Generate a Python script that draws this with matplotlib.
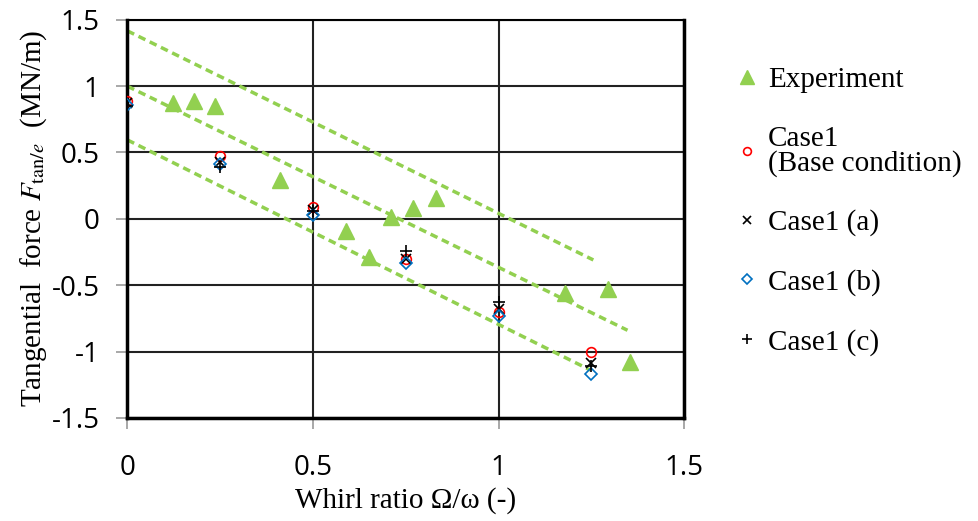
import matplotlib
matplotlib.use("Agg")
import matplotlib.pyplot as plt

plt.rcParams['mathtext.fontset'] = 'stix'

# experiment
exp_x = [0.124, 0.18, 0.237, 0.41, 0.59, 0.65, 0.71, 0.77, 0.83, 1.18, 1.295, 1.355]
exp_y = [0.87, 0.89, 0.85, 0.29, -0.09, -0.29, 0.01, 0.08, 0.16, -0.56, -0.53, -1.08]

# computed cases
case_x = [0, 0.25, 0.5, 0.75, 1.0, 1.25]
base_y = [0.89, 0.47, 0.09, -0.30, -0.70, -1.00]
a_y = [0.87, 0.43, 0.07, -0.30, -0.68, -1.09]
b_y = [0.86, 0.41, 0.03, -0.33, -0.73, -1.17]
c_y = [0.85, 0.39, 0.06, -0.24, -0.63, -1.11]

# dashed guide lines (start, end)
line_x = [[0, 1.255], [0, 1.347], [0, 1.247]]
line_y = [[1.417, -0.31], [1.0, -0.84], [0.595, -1.14]]

green = '#92D050'

fig = plt.figure(figsize=(9.79, 5.21), dpi=100)
ax = fig.add_axes([0.130, 0.198, 0.569, 0.764])

for lx, ly in zip(line_x, line_y):
    ax.plot(lx, ly, '--', color=green, lw=2.5, dashes=(2.2, 1.4), zorder=2)

ax.plot(exp_x, exp_y, '^', color=green, ms=12, ls='none', label='Experiment', zorder=3)
ax.plot(case_x, base_y, 'o', mfc='none', mec='red', ms=7, mew=1.2, ls='none',
        label='Case1\n(Base condition)', zorder=4)
ax.plot(case_x, a_y, 'x', color='black', ms=7, mew=1.2, ls='none', label='Case1 (a)', zorder=4)
ax.plot(case_x, b_y, 'D', mfc='none', mec='#0070C0', ms=6, mew=1.2, ls='none',
        label='Case1 (b)', zorder=4)
ax.plot(case_x, c_y, '+', color='black', ms=9, mew=1.2, ls='none', label='Case1 (c)', zorder=4)

ax.set_xlim(0, 1.5)
ax.set_ylim(-1.5, 1.5)
ax.set_xticks([0, 0.5, 1, 1.5])
ax.set_xticklabels(['0', '0.5', '1', '1.5'])
ax.set_yticks([-1.5, -1, -0.5, 0, 0.5, 1, 1.5])
ax.set_yticklabels(['-1.5', '-1', '-0.5', '0', '0.5', '1', '1.5'])
ax.grid(True, color='#222222', lw=1.5)
ax.set_axisbelow(True)
for s in ax.spines.values():
    s.set_linewidth(2.5)
    s.set_color('black')
ax.spines['top'].set_linewidth(1.5)
ax.tick_params(axis='both', colors='#999999', labelcolor='black', length=8, width=1.2,
               labelsize=20)
ax.tick_params(axis='x', pad=18)
ax.tick_params(axis='y', pad=12)
for t in ax.get_xticklabels() + ax.get_yticklabels():
    t.set_fontfamily('Open Sans')

ax.set_xlabel('Whirl ratio Ω/ω (-)', fontsize=21, family='Liberation Serif', labelpad=4)
ax.set_ylabel(r'Tangential  force $F_{\mathrm{tan}/e}$  (MN/m)', fontsize=21,
              family='Liberation Serif', labelpad=2)

leg = ax.legend(loc='upper left', bbox_to_anchor=(1.04, 0.948), frameon=False,
                prop={'family': 'Liberation Serif', 'size': 21}, labelspacing=1.12,
                handletextpad=0.2, handlelength=1.0, markerscale=0.8)
for t in leg.get_texts():
    t.set_linespacing(0.9)

fig.savefig('out.png', dpi=100)
